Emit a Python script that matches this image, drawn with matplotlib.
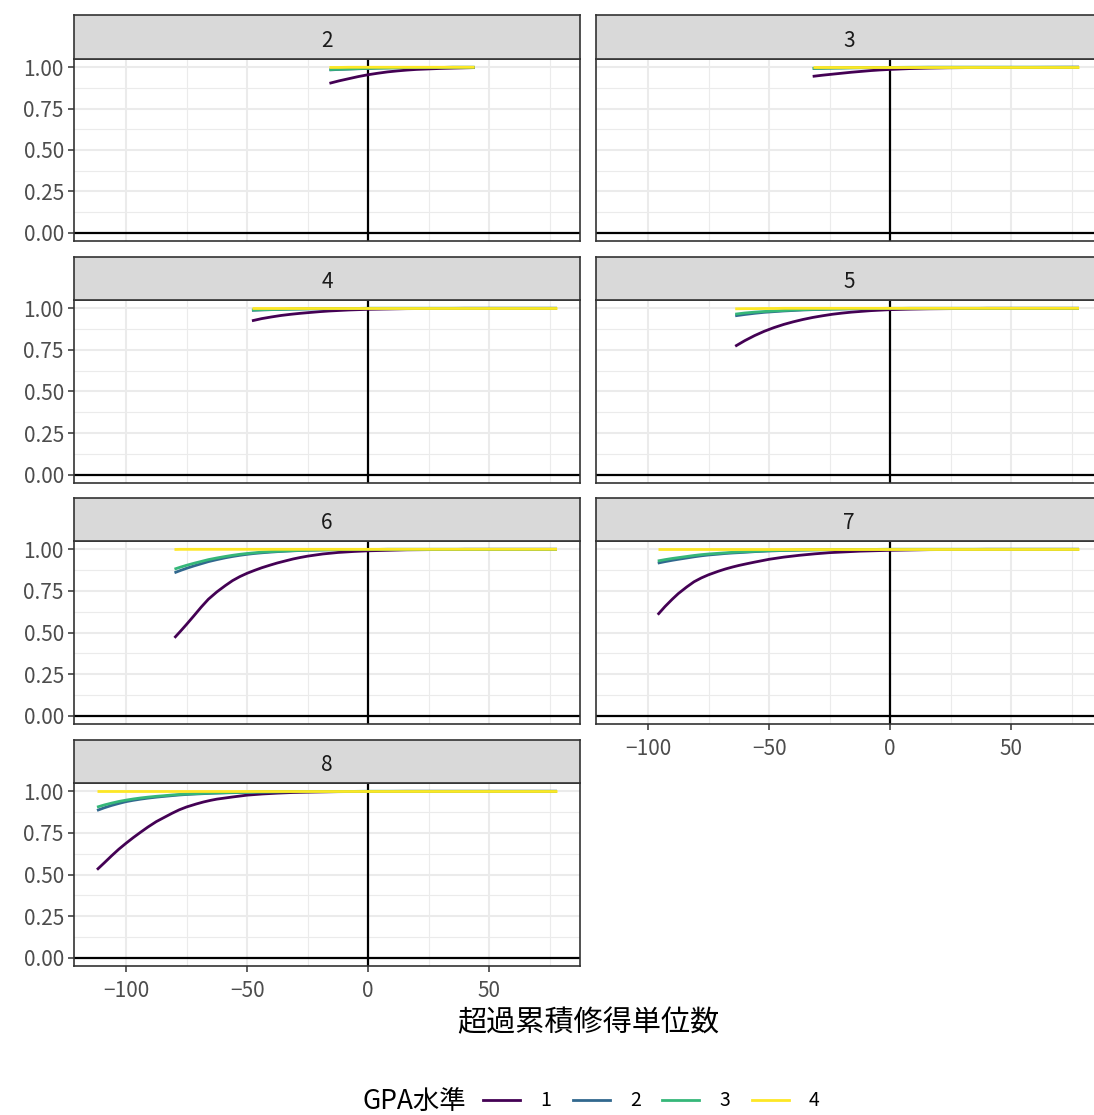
import numpy as np
import matplotlib
matplotlib.use("Agg")
import matplotlib.pyplot as plt
from matplotlib.lines import Line2D

plt.rcParams['font.family'] = ['Noto Sans CJK JP', 'DejaVu Sans']

# --- データ ---
levels = ['1', '2', '3', '4']
colors = ['#440154', '#31688E', '#35B779', '#FDE725']
facets = ['2', '3', '4', '5', '6', '7', '8']

x_p2 = [-16, -12, -8, -4, 0, 4, 8, 12, 16, 20, 25, 30, 35, 44]
y_p2_g1 = [0.903, 0.918, 0.931, 0.944, 0.955, 0.964, 0.972, 0.978, 0.983, 0.987, 0.990, 0.993, 0.995, 0.998]
y_p2_g2 = [0.984, 0.987, 0.989, 0.991, 0.993, 0.995, 0.996, 0.997, 0.998, 0.998, 0.999, 0.999, 1.0, 1.0]
y_p2_g3 = [0.986, 0.988, 0.990, 0.992, 0.994, 0.995, 0.996, 0.997, 0.998, 0.998, 0.999, 0.999, 1.0, 1.0]
y_p2_g4 = [0.999, 0.999, 1.0, 1.0, 1.0, 1.0, 1.0, 1.0, 1.0, 1.0, 1.0, 1.0, 1.0, 1.0]

x_p3 = [-32, -28, -24, -20, -16, -12, -8, -4, 0, 8, 16, 24, 32, 50, 78]
y_p3_g1 = [0.945, 0.952, 0.958, 0.964, 0.970, 0.975, 0.980, 0.984, 0.987, 0.992, 0.995, 0.997, 0.998, 0.999, 1.0]
y_p3_g2 = [0.993, 0.994, 0.995, 0.996, 0.997, 0.997, 0.998, 0.998, 0.999, 0.999, 1.0, 1.0, 1.0, 1.0, 1.0]
y_p3_g3 = [0.994, 0.995, 0.996, 0.996, 0.997, 0.998, 0.998, 0.999, 0.999, 1.0, 1.0, 1.0, 1.0, 1.0, 1.0]
y_p3_g4 = [1.0, 1.0, 1.0, 1.0, 1.0, 1.0, 1.0, 1.0, 1.0, 1.0, 1.0, 1.0, 1.0, 1.0, 1.0]

x_p4 = [-48, -44, -40, -36, -32, -28, -24, -20, -16, -8, 0, 8, 16, 40, 78]
y_p4_g1 = [0.925, 0.938, 0.948, 0.957, 0.964, 0.970, 0.975, 0.980, 0.984, 0.990, 0.994, 0.996, 0.998, 1.0, 1.0]
y_p4_g2 = [0.988, 0.990, 0.992, 0.993, 0.995, 0.996, 0.997, 0.997, 0.998, 0.999, 1.0, 1.0, 1.0, 1.0, 1.0]
y_p4_g3 = [0.990, 0.992, 0.993, 0.994, 0.995, 0.996, 0.997, 0.998, 0.998, 0.999, 1.0, 1.0, 1.0, 1.0, 1.0]
y_p4_g4 = [1.0, 1.0, 1.0, 1.0, 1.0, 1.0, 1.0, 1.0, 1.0, 1.0, 1.0, 1.0, 1.0, 1.0, 1.0]

x_p5 = [-64, -60, -56, -52, -48, -44, -40, -36, -32, -28, -24, -20, -16, -8, 0, 8, 16, 40, 78]
y_p5_g1 = [0.772, 0.806, 0.836, 0.862, 0.884, 0.903, 0.919, 0.933, 0.945, 0.955, 0.964, 0.971, 0.977,
           0.986, 0.992, 0.995, 0.997, 1.0, 1.0]
y_p5_g2 = [0.955, 0.963, 0.970, 0.976, 0.980, 0.984, 0.987, 0.990, 0.992, 0.993, 0.995, 0.996, 0.997,
           0.998, 0.999, 1.0, 1.0, 1.0, 1.0]
y_p5_g3 = [0.965, 0.972, 0.977, 0.981, 0.984, 0.987, 0.990, 0.992, 0.994, 0.995, 0.996, 0.997, 0.998,
           0.999, 1.0, 1.0, 1.0, 1.0, 1.0]
y_p5_g4 = [0.997, 0.998, 0.998, 0.999, 0.999, 1.0, 1.0, 1.0, 1.0, 1.0, 1.0, 1.0, 1.0,
           1.0, 1.0, 1.0, 1.0, 1.0, 1.0]

x_p6 = [-80, -77.5, -75, -72, -69, -66, -62.5, -59, -56, -53, -50, -47, -44, -40.5, -37.5,
        -34, -31, -28, -25, -18.75, -12.5, -6, 0, 8, 16, 40, 78]
y_p6_g1 = [0.468, 0.508, 0.549, 0.600, 0.652, 0.700, 0.744, 0.782, 0.812, 0.836, 0.856, 0.873, 0.889,
           0.905, 0.918, 0.931, 0.942, 0.951, 0.959, 0.972, 0.981, 0.987, 0.991, 0.994, 0.997, 1.0, 1.0]
y_p6_g2 = [0.859, 0.873, 0.886, 0.900, 0.913, 0.926, 0.938, 0.949, 0.957, 0.964, 0.970, 0.975, 0.979,
           0.983, 0.986, 0.989, 0.991, 0.993, 0.994, 0.996, 0.998, 0.999, 0.999, 1.0, 1.0, 1.0, 1.0]
y_p6_g3 = [0.881, 0.893, 0.904, 0.916, 0.927, 0.938, 0.948, 0.957, 0.964, 0.970, 0.975, 0.979, 0.983,
           0.986, 0.988, 0.990, 0.992, 0.994, 0.995, 0.997, 0.998, 0.999, 0.999, 1.0, 1.0, 1.0, 1.0]
y_p6_g4 = [0.999, 1.0, 1.0, 1.0, 1.0, 1.0, 1.0, 1.0, 1.0, 1.0, 1.0, 1.0, 1.0,
           1.0, 1.0, 1.0, 1.0, 1.0, 1.0, 1.0, 1.0, 1.0, 1.0, 1.0, 1.0, 1.0, 1.0]

x_p7 = [-96, -93, -90, -87.5, -84, -81, -78, -75, -71, -68, -65, -62.5, -59, -56, -50, -44,
        -37.5, -31, -25, -12.5, 0, 16, 40, 78]
y_p7_g1 = [0.607, 0.656, 0.700, 0.734, 0.774, 0.805, 0.828, 0.847, 0.868, 0.882, 0.894, 0.903, 0.914,
           0.923, 0.940, 0.953, 0.964, 0.973, 0.980, 0.989, 0.994, 0.998, 1.0, 1.0]
y_p7_g2 = [0.917, 0.926, 0.934, 0.940, 0.948, 0.955, 0.961, 0.966, 0.971, 0.975, 0.978, 0.980, 0.983,
           0.986, 0.990, 0.993, 0.995, 0.997, 0.998, 0.999, 1.0, 1.0, 1.0, 1.0]
y_p7_g3 = [0.930, 0.938, 0.945, 0.950, 0.957, 0.963, 0.968, 0.972, 0.976, 0.979, 0.982, 0.984, 0.986,
           0.988, 0.992, 0.994, 0.996, 0.997, 0.998, 0.999, 1.0, 1.0, 1.0, 1.0]
y_p7_g4 = [1.0] * 24

x_p8 = [-112, -109, -106, -103, -100, -97, -94, -91, -87.5, -84, -81, -78, -75, -71, -68, -65,
        -62.5, -56, -50, -43.75, -37.5, -31, -25, -12.5, 0, 16, 78]
y_p8_g1 = [0.529, 0.570, 0.612, 0.652, 0.688, 0.722, 0.754, 0.785, 0.818, 0.845, 0.868, 0.889, 0.906,
           0.924, 0.936, 0.946, 0.953, 0.966, 0.977, 0.984, 0.989, 0.993, 0.995, 0.998, 0.999, 1.0, 1.0]
y_p8_g2 = [0.885, 0.901, 0.915, 0.927, 0.938, 0.946, 0.953, 0.959, 0.965, 0.970, 0.974, 0.978, 0.981,
           0.984, 0.986, 0.988, 0.989, 0.992, 0.994, 0.996, 0.997, 0.998, 0.998, 0.999, 1.0, 1.0, 1.0]
y_p8_g3 = [0.905, 0.918, 0.929, 0.939, 0.947, 0.954, 0.960, 0.965, 0.970, 0.974, 0.978, 0.981, 0.984,
           0.986, 0.988, 0.990, 0.991, 0.993, 0.995, 0.996, 0.997, 0.998, 0.998, 0.999, 1.0, 1.0, 1.0]
y_p8_g4 = [1.0] * 27

panel_data = {
    '2': (x_p2, [y_p2_g1, y_p2_g2, y_p2_g3, y_p2_g4]),
    '3': (x_p3, [y_p3_g1, y_p3_g2, y_p3_g3, y_p3_g4]),
    '4': (x_p4, [y_p4_g1, y_p4_g2, y_p4_g3, y_p4_g4]),
    '5': (x_p5, [y_p5_g1, y_p5_g2, y_p5_g3, y_p5_g4]),
    '6': (x_p6, [y_p6_g1, y_p6_g2, y_p6_g3, y_p6_g4]),
    '7': (x_p7, [y_p7_g1, y_p7_g2, y_p7_g3, y_p7_g4]),
    '8': (x_p8, [y_p8_g1, y_p8_g2, y_p8_g3, y_p8_g4]),
}

x_ticks = [-100, -50, 0, 50]
x_minor = [-75, -25, 25, 75]
y_ticks = [0.0, 0.25, 0.5, 0.75, 1.0]
y_minor = [0.125, 0.375, 0.625, 0.875]
y_ticklabels = ['0.00', '0.25', '0.50', '0.75', '1.00']

# --- レイアウト (ピクセル) ---
W, H = 1094, 1115
fig = plt.figure(figsize=(W / 100, H / 100), dpi=100)

col_x = [(74, 580), (596, 1102)]
row_panel = [(59, 241), (300, 483), (541, 724), (783, 966)]
row_strip = [(15, 59), (257, 300), (498, 541), (740, 783)]

# x軸の範囲 (ggplot の 5% 拡張)
all_x = x_p2 + x_p3 + x_p4 + x_p5 + x_p6 + x_p7 + x_p8
xmin, xmax = min(all_x), max(all_x)
xpad = (xmax - xmin) * 0.05
xlim = (xmin - xpad, xmax + xpad)

def frac(x0, x1, y0, y1):
    return [x0 / W, 1 - y1 / H, (x1 - x0) / W, (y1 - y0) / H]

bottom_facets = {'7', '8'}
left_facets = {'2', '4', '6', '8'}

for i, f in enumerate(facets):
    r, c = divmod(i, 2)
    x0, x1 = col_x[c]
    ax = fig.add_axes(frac(x0, x1, *row_panel[r]))
    ax.set_facecolor('white')
    ax.set_xticks(x_ticks)
    ax.set_xticks(x_minor, minor=True)
    ax.set_yticks(y_ticks)
    ax.set_yticks(y_minor, minor=True)
    ax.set_xlim(*xlim)
    ax.set_ylim(-0.05, 1.05)
    ax.grid(which='major', color='#EBEBEB', linewidth=1.5)
    ax.grid(which='minor', color='#EBEBEB', linewidth=0.8)
    ax.set_axisbelow(True)
    for s in ax.spines.values():
        s.set_color('#333333')
        s.set_linewidth(1.2)
    ax.tick_params(which='minor', length=0)
    ax.tick_params(which='major', color='#333333', width=1.1, length=4.3,
                   labelcolor='#4D4D4D', labelsize=15, pad=3)
    ax.tick_params(axis='x', which='major', pad=6)
    if f in left_facets:
        ax.set_yticklabels(y_ticklabels)
    else:
        ax.tick_params(axis='y', which='major', left=False, labelleft=False)
    if f not in bottom_facets:
        ax.tick_params(axis='x', which='major', bottom=False, labelbottom=False)

    ax.axhline(0, color='black', linewidth=1.6, zorder=2)
    ax.axvline(0, color='black', linewidth=1.6, zorder=2)

    xs, ys_list = panel_data[f]
    for ys, col in zip(ys_list, colors):
        ax.plot(xs, ys, color=col, linewidth=2.0, solid_capstyle='butt', zorder=3)

    # ストリップ
    sax = fig.add_axes(frac(x0, x1, *row_strip[r]))
    sax.set_facecolor('#D9D9D9')
    sax.set_xticks([])
    sax.set_yticks([])
    for s in sax.spines.values():
        s.set_color('#333333')
        s.set_linewidth(1.2)
    sax.text(0.5, 0.42, f, ha='center', va='center', fontsize=15,
             color='#1A1A1A', transform=sax.transAxes)

# 軸タイトル
fig.text(588 / W, 1 - 1023 / H, '超過累積修得単位数', ha='center', va='center',
         fontsize=21, color='black')

# 凡例
fig.text(362 / W, 1 - 1101 / H, 'GPA水準', ha='left', va='center',
         fontsize=19, color='black')
handles = [Line2D([0], [0], color=col, linewidth=2.0) for col in colors]
fig.legend(handles, levels, loc='center left', bbox_to_anchor=(483 / W, 1 - 1101 / H),
           ncol=4, frameon=False, fontsize=14, handlelength=1.9, handletextpad=1.05,
           columnspacing=1.1, borderpad=0, borderaxespad=0)

fig.savefig('out.png', dpi=100)
